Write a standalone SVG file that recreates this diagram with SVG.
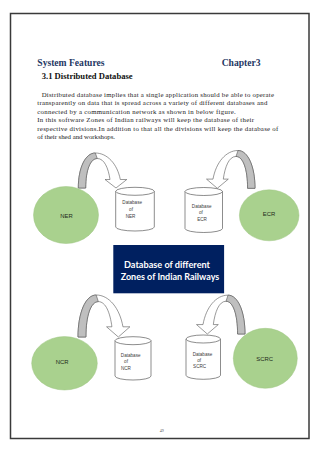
<svg xmlns="http://www.w3.org/2000/svg" width="320" height="453" viewBox="0 0 320 453">
<style>
.page{fill:#fff;stroke:#3a3a3a;stroke-width:1.5}
.title{font-family:"Liberation Serif",serif;font-weight:bold;font-size:9.6px;fill:#1f3864}
.sub{font-family:"Liberation Serif",serif;font-weight:bold;font-size:8.6px;fill:#111}
.para{font-family:"Liberation Serif",serif;font-size:6.8px;fill:#1a1a1a}
.zone{fill:#a9d18e;stroke:#9cc481;stroke-width:0.5}
.zlabel{font-family:"Liberation Sans",Arial,sans-serif;font-size:5.9px;fill:#1e2a1a;text-anchor:middle}
.cyl{fill:#fff;stroke:#404040;stroke-width:0.6}
.dblabel{font-family:"Liberation Sans",Arial,sans-serif;font-size:4.6px;fill:#404040;text-anchor:middle}
.arw{fill:#fff;stroke:#555;stroke-width:0.6;stroke-linejoin:round}
.arwg{fill:#bfbfbf;stroke:#555;stroke-width:0.6;stroke-linejoin:round}
.box{fill:#002060}
.boxt{font-family:Lato,"Liberation Sans",sans-serif;font-weight:bold;font-size:8.8px;fill:#fff;text-anchor:middle}
.pn{font-family:"Liberation Serif",serif;font-size:4px;fill:#555;text-anchor:middle}
</style>
<defs>
<g id="curvedArrow">
<path class="arw" vector-effect="non-scaling-stroke" d="M0,0 C0,-20 7,-35 17,-35 C29,-35 39,-24 42,-8.5 L48.5,-8.5 L37.7,0 L26.7,-8.5 L31.7,-8.5 C30,-20 26,-29.5 19,-29.5 C12,-29.5 7.4,-18 7.4,0 Z"/>
<path class="arwg" vector-effect="non-scaling-stroke" d="M0,0 C0,-20 7,-35 17,-35 L19,-29.5 C12,-29.5 7.4,-18 7.4,0 Z"/>
</g>
</defs>
<rect class="page" x="10.5" y="13.5" width="298.5" height="425"/>
<text class="title" x="37.3" y="65.5">System Features</text>
<text class="title" x="221.7" y="65.5">Chapter3</text>
<text class="sub" x="41.7" y="79">3.1 Distributed Database</text>
<g class="para">
<text x="41.7" y="97" textLength="232.3" lengthAdjust="spacing">Distributed database implies that a single application should be able to operate</text>
<text x="37.3" y="105.4" textLength="230" lengthAdjust="spacing">transparently on data that is spread across a variety of different databases and</text>
<text x="37.3" y="113.8" textLength="198.4" lengthAdjust="spacing">connected by a communication network as shown in below figure.</text>
<text x="37.3" y="122.2" textLength="216.7" lengthAdjust="spacing">In this software Zones of Indian railways will keep the database of their</text>
<text x="37.3" y="130.6" textLength="241" lengthAdjust="spacing">respective divisions.In addition to that all the divisions will keep the database of</text>
<text x="37.3" y="139" textLength="77.7" lengthAdjust="spacing">of their shed and workshops.</text>
</g>
<g id="connectors">
<use href="#curvedArrow" transform="translate(78.3,188)"/>
<use href="#curvedArrow" transform="translate(255,188.3) scale(-1,1.08)"/>
<use href="#curvedArrow" transform="translate(78,337) scale(1.07,1.2)"/>
<use href="#curvedArrow" transform="translate(245,334) scale(-1,1.11)"/>
</g>
<g id="NER">
<ellipse class="zone" cx="66" cy="215" rx="32.5" ry="28.5"/>
<text class="zlabel" x="66.5" y="218">NER</text>
</g>
<g id="ECR">
<ellipse class="zone" cx="269.2" cy="215.3" rx="29.8" ry="25.5"/>
<text class="zlabel" x="269" y="215.5">ECR</text>
</g>
<g id="NCR">
<ellipse class="zone" cx="64.5" cy="363.3" rx="32.8" ry="26.7"/>
<text class="zlabel" x="62.2" y="363.8">NCR</text>
</g>
<g id="SCRC">
<ellipse class="zone" cx="265.3" cy="358.3" rx="32" ry="30"/>
<text class="zlabel" x="264.7" y="361.4">SCRC</text>
</g>
<g id="DB_NER">
<path class="cyl" d="M115.7,191.3 L115.7,227 A19.3,4 0 0 0 154.3,227 L154.3,191.3"/>
<ellipse class="cyl" cx="135" cy="191.3" rx="19.3" ry="4"/>
<text class="dblabel" x="132.2" y="204.4">Database</text>
<text class="dblabel" x="131" y="210.9">of</text>
<text class="dblabel" x="130.6" y="217.6">NER</text>
</g>
<g id="DB_ECR">
<path class="cyl" d="M185,191.5 L185,228.5 A18.75,4 0 0 0 222.5,228.5 L222.5,191.5"/>
<ellipse class="cyl" cx="203.75" cy="191.5" rx="18.75" ry="4"/>
<text class="dblabel" x="201.7" y="207.7">Database</text>
<text class="dblabel" x="200.8" y="214">of</text>
<text class="dblabel" x="202" y="220.7">ECR</text>
</g>
<g id="DB_NCR">
<path class="cyl" d="M115,340.7 L115,376 A18,4 0 0 0 151,376 L151,340.7"/>
<ellipse class="cyl" cx="133" cy="340.7" rx="18" ry="4"/>
<text class="dblabel" x="130.7" y="356.7">Database</text>
<text class="dblabel" x="126" y="363.4">of</text>
<text class="dblabel" x="125.9" y="370">NCR</text>
</g>
<g id="DB_SCRC">
<path class="cyl" d="M186,339 L186,375.3 A17.25,4 0 0 0 220.5,375.3 L220.5,339"/>
<ellipse class="cyl" cx="203.25" cy="339" rx="17.25" ry="4"/>
<text class="dblabel" x="202.5" y="355.7">Database</text>
<text class="dblabel" x="199.2" y="361.8">of</text>
<text class="dblabel" x="199.6" y="368.4">SCRC</text>
</g>
<g id="central">
<rect class="box" x="113.3" y="245" width="110.8" height="48.3"/>
<text class="boxt" x="167" y="268.2" textLength="86" lengthAdjust="spacingAndGlyphs">Database of different</text>
<text class="boxt" x="170" y="280" textLength="98.6" lengthAdjust="spacingAndGlyphs">Zones of Indian Railways</text>
</g>
<text class="pn" x="161.7" y="432">49</text>
</svg>
